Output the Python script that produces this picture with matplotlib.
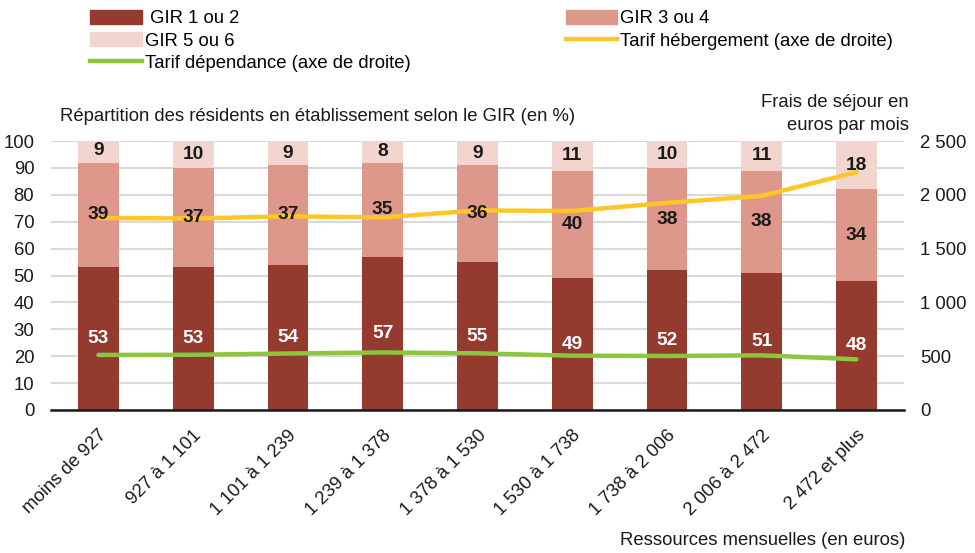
import matplotlib.pyplot as plt
import numpy as np
from matplotlib.patches import Patch
from matplotlib.lines import Line2D
from matplotlib.ticker import FuncFormatter

plt.rcParams['font.family'] = ['Liberation Sans', 'DejaVu Sans']

categories = ['moins de 927', '927 à 1 101', '1 101 à 1 239', '1 239 à 1 378',
              '1 378 à 1 530', '1 530 à 1 738', '1 738 à 2 006', '2 006 à 2 472',
              '2 472 et plus']
gir12 = [53, 53, 54, 57, 55, 49, 52, 51, 48]
gir34 = [39, 37, 37, 35, 36, 40, 38, 38, 34]
gir56 = [9, 10, 9, 8, 9, 11, 10, 11, 18]
tarif_heb = [1785, 1780, 1800, 1790, 1855, 1850, 1925, 1990, 2210]
tarif_dep = [512, 513, 525, 535, 527, 505, 502, 508, 471]

c_dark = '#943A2E'
c_mid = '#DE978B'
c_light = '#F3D5D0'
c_yellow = '#FFC627'
c_green = '#8CC63F'
fs = 13.3

fig = plt.figure(figsize=(9.75, 5.53), dpi=100)
ax = fig.add_axes([0.0523, 0.2586, 0.8747, 0.4864])
x = np.arange(len(categories))
w = 0.43

b1 = np.array(gir12)
b2 = b1 + np.array(gir34)
ax.bar(x, gir12, w, color=c_dark, zorder=2)
ax.bar(x, gir34, w, bottom=b1, color=c_mid, zorder=2)
ax.bar(x, gir56, w, bottom=b2, color=c_light, zorder=2)

ax.set_ylim(0, 100)
ax.set_xlim(-0.5, len(categories) - 0.5)
ax.set_yticks(range(0, 101, 10))
ax.yaxis.grid(True, color='#D9D9D9', lw=1.5, zorder=0)
ax.set_axisbelow(True)
for s in ['top', 'left', 'right']:
    ax.spines[s].set_visible(False)
ax.spines['bottom'].set_linewidth(1.8)
ax.spines['bottom'].set_color('#1a1a1a')
ax.spines['bottom'].set_zorder(5)
ax.tick_params(length=0, labelsize=fs, colors='#1a1a1a')
ax.tick_params(axis='y', pad=12)
ax.set_xticks(x)
ax.set_xticklabels(categories, rotation=45, ha='right', rotation_mode='anchor', fontsize=fs)
ax.tick_params(axis='x', pad=12)

ax2 = ax.twinx()
ax2.set_ylim(0, 2500)
ax2.set_yticks(range(0, 2501, 500))
ax2.yaxis.set_major_formatter(FuncFormatter(lambda v, p: f'{int(v):,}'.replace(',', ' ')))
for s in ['top', 'left', 'right', 'bottom']:
    ax2.spines[s].set_visible(False)
ax2.tick_params(length=0, labelsize=fs, colors='#1a1a1a', pad=12)
ax2.plot(x, tarif_heb, color=c_yellow, lw=3.2, solid_capstyle='round', zorder=3)
ax2.plot(x, tarif_dep, color=c_green, lw=3.2, solid_capstyle='round', zorder=3)

for i in x:
    ax2.text(i, gir12[i] / 2, str(gir12[i]), transform=ax.transData, ha='center', va='center',
             color='white', fontsize=fs + 0.5, fontweight='bold', zorder=6)
    ax2.text(i, b1[i] + gir34[i] / 2, str(gir34[i]), transform=ax.transData, ha='center',
             va='center', color='#1a1a1a', fontsize=fs + 0.5, fontweight='bold', zorder=6)
    ax2.text(i, b2[i] + gir56[i] / 2, str(gir56[i]), transform=ax.transData, ha='center',
             va='center', color='#1a1a1a', fontsize=fs + 0.5, fontweight='bold', zorder=6)

fig.text(0.062, 0.79, 'Répartition des résidents en établissement selon le GIR (en %)',
         fontsize=fs, color='#1a1a1a', va='center')
fig.text(0.932, 0.794, 'Frais de séjour en\neuros par mois', fontsize=fs, color='#1a1a1a',
         ha='right', va='center', linespacing=1.45)
fig.text(0.929, 0.022, 'Ressources mensuelles (en euros)', fontsize=fs, color='#1a1a1a',
         ha='right', va='center')

handles = [Patch(color=c_dark, label=' GIR 1 ou 2'),
           Patch(color=c_light, label='GIR 5 ou 6'),
           Line2D([], [], color=c_green, lw=3.2, label='Tarif dépendance (axe de droite)'),
           Patch(color=c_mid, label='GIR 3 ou 4'),
           Line2D([], [], color=c_yellow, lw=3.2, label='Tarif hébergement (axe de droite)')]
fig.legend(handles=handles, ncol=2, loc='upper left', bbox_to_anchor=(0.0755, 1.012),
           frameon=False, fontsize=fs, handlelength=2.8, handleheight=0.75,
           handletextpad=0.15, columnspacing=8.4, labelspacing=0.28)

fig.savefig('out.png', dpi=100)
